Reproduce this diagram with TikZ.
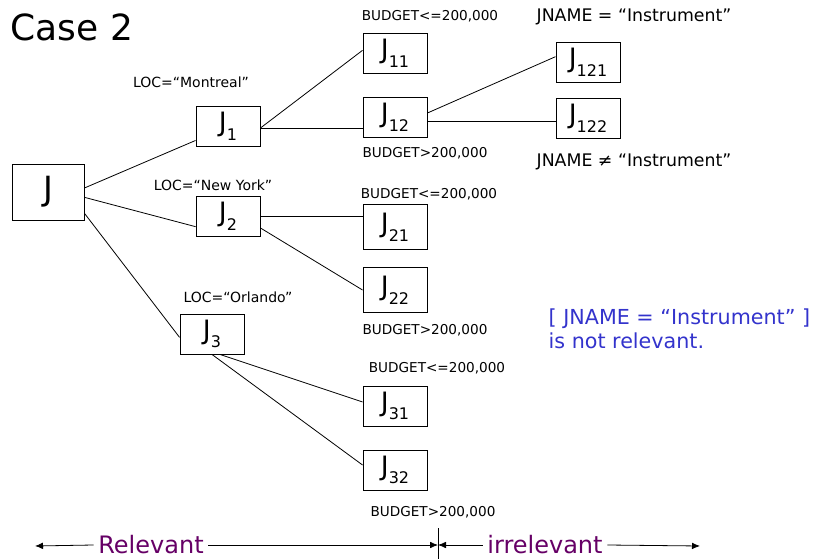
\documentclass[tikz,border=0pt]{standalone}
\usepackage{fontspec}
\setmainfont{DejaVu Sans}
\usetikzlibrary{arrows.meta}
\definecolor{noteblue}{HTML}{3333CC}
\definecolor{relpurple}{HTML}{660066}
\newcommand{\Jsub}[1]{J\raisebox{-.6ex}{\fontsize{12}{12}\selectfont#1}}

\begin{document}
\begin{tikzpicture}[x=.75pt,y=-.75pt,
    jbox/.style={draw,line width=.7pt,minimum width=48pt,minimum height=30pt,
      inner sep=0pt,font=\fontsize{20}{22}\selectfont},
    loclabel/.style={font=\fontsize{10.5}{12}\selectfont},
    budget/.style={font=\fontsize{10.2}{12}\selectfont},
    jname/.style={font=\fontsize{13}{15}\selectfont},
    edge/.style={line width=.6pt},
    scaletext/.style={relpurple,font=\fontsize{18}{20}\selectfont}]
  \useasboundingbox (0,0) rectangle (817,559);
  \node[anchor=west,font=\fontsize{27}{30}\selectfont] (title) at (6,27) {Case 2};
  % tree
  \node[jbox,minimum width=54pt,minimum height=42pt,font=\fontsize{25}{28}\selectfont]
    (J) at (48,192) {J};
  \node[jbox] (J1) at (228,126) {\Jsub{1}};
  \node[jbox] (J2) at (228,216) {\Jsub{2}};
  \node[jbox] (J3) at (212,334) {\Jsub{3}};
  \node[jbox] (J11) at (395,53) {\Jsub{11}};
  \node[jbox] (J12) at (395,117) {\Jsub{12}};
  \node[jbox,minimum height=34pt] (J21) at (395,227) {\Jsub{21}};
  \node[jbox,minimum height=34pt] (J22) at (395,290) {\Jsub{22}};
  \node[jbox] (J31) at (395,406) {\Jsub{31}};
  \node[jbox] (J32) at (395,470) {\Jsub{32}};
  \node[jbox] (J121) at (588,62) {\Jsub{121}};
  \node[jbox] (J122) at (588,118) {\Jsub{122}};
  % predicates
  \node[loclabel] (l1) at (191,82) {LOC=“Montreal”};
  \node[loclabel] (l2) at (213,185) {LOC=“New York”};
  \node[loclabel] (l3) at (238,297) {LOC=“Orlando”};
  \node[budget] (b11) at (430,16) {BUDGET<=200,000};
  \node[budget] (b12) at (425,153) {BUDGET>200,000};
  \node[budget] (b21) at (429,194) {BUDGET<=200,000};
  \node[budget] (b22) at (425,330) {BUDGET>200,000};
  \node[budget] (b31) at (437,368) {BUDGET<=200,000};
  \node[budget] (b32) at (433,512) {BUDGET>200,000};
  \node[jname] (n121) at (634,17) {JNAME = “Instrument”};
  \node[jname] (n122) at (634,162) {JNAME ≠ “Instrument”};
  \node[anchor=north west,align=left,text=noteblue,
    font=\fontsize{15.5}{18}\selectfont] (note) at (544,304)
    {[ JNAME = “Instrument” ]\\is not relevant.};
  % edges
  \draw[edge] ([yshift=3pt]J.east) -- ([yshift=4.5pt]J1.south west);
  \draw[edge] ([yshift=-4pt]J.east) -- ([yshift=-8pt]J2.west);
  \draw[edge] ([yshift=-16pt]J.east) -- ([yshift=-2.5pt]J3.west);
  \draw[edge] ([yshift=-1.5pt]J1.east) -- ([yshift=2pt]J11.west);
  \draw[edge] ([yshift=-1.5pt]J1.east) -- ([yshift=-1.5pt]J1.east -| J12.west);
  \draw[edge] ([yshift=3pt]J12.east) -- ([yshift=4pt]J121.west);
  \draw[edge] ([yshift=-3.5pt]J12.east) -- ([yshift=-3.5pt]J12.east -| J122.west);
  \draw[edge] (J2.east) -- (J2.east -| J21.west);
  \draw[edge] ([yshift=-9pt]J2.east) -- (J22.west);
  \draw[edge] ([xshift=6pt]J3.south) -- ([yshift=3pt]J31.west);
  \draw[edge] (J3.south) -- ([yshift=3.75pt]J32.west);
  % relevant / irrelevant scale
  \coordinate (leftend) at (35,546);
  \coordinate (rightend) at (700,546);
  \coordinate (divtop) at (438,528);
  \coordinate (divbot) at (438,559);
  \node[scaletext] (rel) at (151,545) {Relevant};
  \node[scaletext] (irrel) at (545,545) {irrelevant};
  \draw[edge] (divtop) -- (divbot);
  \draw[edge,-{Latex[length=6pt,width=5pt]}] (rel.west) -- (leftend);
  \draw[edge,-{Latex[length=6pt,width=5pt]}] (rel.east) -- (rel.east -| divtop);
  \draw[edge,-{Latex[length=6pt,width=5pt]}] (irrel.west) -- (irrel.west -| divtop);
  \draw[edge,-{Latex[length=6pt,width=5pt]}] (irrel.east) -- (rightend);
\end{tikzpicture}
\end{document}
